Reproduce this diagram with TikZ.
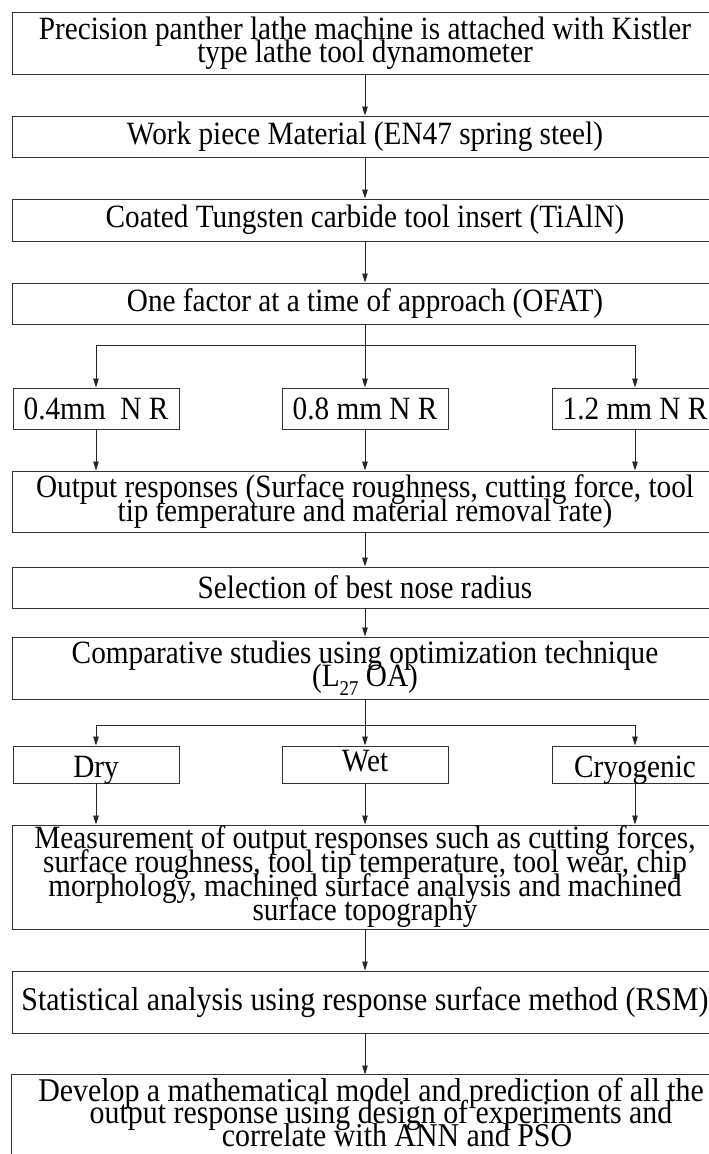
\documentclass[tikz,border=0pt]{standalone}
\usepackage{fontspec}
\setmainfont{Liberation Serif}[FakeStretch=0.9]
\usetikzlibrary{arrows.meta}
\newcommand\boxfont[2]{\fontsize{#1}{#2}\selectfont\lineskiplimit=-60pt\lineskip=0pt\relax}
\begin{document}
\begin{tikzpicture}[x=1pt,y=-1pt,
  boxline/.style={draw=black!80, line width=0.9pt},
  box/.style={boxline, inner sep=0pt, align=center, minimum width=706pt, font=\boxfont{32.5}{23.5}},
  sbox/.style={box, minimum width=166pt},
  ln/.style={draw=black!85, line width=0.8pt},
  arr/.style={ln, -{Triangle[length=9pt,width=5.5pt]}}]
\clip (0,0) rectangle (709,1154);
\useasboundingbox (0,0) rectangle (709,1154);
\node[box, minimum height=62pt] (b1) at (365,43) {Precision panther lathe machine is attached with Kistler\\type lathe tool dynamometer};
\node[box, minimum height=41pt] (b2) at (365,136.5) {Work piece Material (EN47 spring steel)};
\node[box, minimum height=42pt] (b3) at (365,220) {Coated Tungsten carbide tool insert (TiAlN)};
\node[box, minimum height=41pt] (b4) at (365,303.5) {One factor at a time of approach (OFAT)};
\node[sbox, minimum height=41pt] (nA) at (96,408.5) {0.4mm\ \ N R};
\node[sbox, minimum height=41pt] (nB) at (365,408.5) {0.8 mm N R};
\node[sbox, minimum height=41pt] (nC) at (635,408.5) {1.2 mm N R};
\node[box, minimum height=61pt] (b5) at (365,501.5) {Output responses (Surface roughness, cutting force, tool\\tip temperature and material removal rate)};
\node[box, minimum height=41pt] (b6) at (365,587.5) {Selection of best nose radius};
\node[box, minimum height=62pt] (b7) at (365,668) {Comparative studies using optimization technique\\(L\raisebox{-9pt}{\fontsize{21}{21}\selectfont 27} OA)};
\node[sbox, minimum height=37pt, text height=25pt, text depth=0pt] (dry) at (96,764.5) {Dry};
\node[sbox, minimum height=37pt, text height=19pt, text depth=6pt] (wet) at (365,764.5) {Wet};
\node[sbox, minimum height=37pt, text height=25pt, text depth=0pt] (cry) at (635,764.5) {Cryogenic};
\node[box, minimum height=104pt, font=\boxfont{32.5}{24}] (b8) at (365,877) {Measurement of output responses such as cutting forces,\\surface roughness, tool tip temperature, tool wear, chip\\morphology, machined surface analysis and machined\\surface topography};
\node[box, minimum height=62pt, font=\boxfont{33.2}{23}] (b9) at (365,1002) {Statistical analysis using response surface method (RSM)};
\node[box, draw=none, minimum height=74pt, font=\boxfont{33.2}{22.5}] (b10) at (365,1112) {\hspace*{12pt}Develop a mathematical model and prediction of all the\\\hspace*{32pt}output response using design of experiments and\\\hspace*{64pt}correlate with ANN and PSO};
\draw[boxline] ([yshift=-12pt]b10.south west) -- (b10.north west) -- (b10.north east) -- ([yshift=-12pt]b10.south east);
\draw[arr] (b1) -- (b2);
\draw[arr] (b2) -- (b3);
\draw[arr] (b3) -- (b4);
\coordinate (j1) at (365,345);
\draw[ln] (b4.south) -- (j1);
\draw[arr] (j1) -| (nA.north);
\draw[arr] (j1) -- (nB.north);
\draw[arr] (j1) -| (nC.north);
\draw[arr] (nA.south) -- (nA.south |- b5.north);
\draw[arr] (nB.south) -- (nB.south |- b5.north);
\draw[arr] (nC.south) -- (nC.south |- b5.north);
\draw[arr] (b5) -- (b6);
\draw[arr] (b6) -- (b7);
\coordinate (j2) at (365,725);
\draw[ln] (b7.south) -- (j2);
\draw[arr] (j2) -| (dry.north);
\draw[arr] (j2) -- (wet.north);
\draw[arr] (j2) -| (cry.north);
\draw[arr] (dry.south) -- (dry.south |- b8.north);
\draw[arr] (wet.south) -- (wet.south |- b8.north);
\draw[arr] (cry.south) -- (cry.south |- b8.north);
\draw[arr] (b8) -- (b9);
\draw[arr] (b9.south) -- (b9.south |- b10.north);
\end{tikzpicture}
\end{document}
